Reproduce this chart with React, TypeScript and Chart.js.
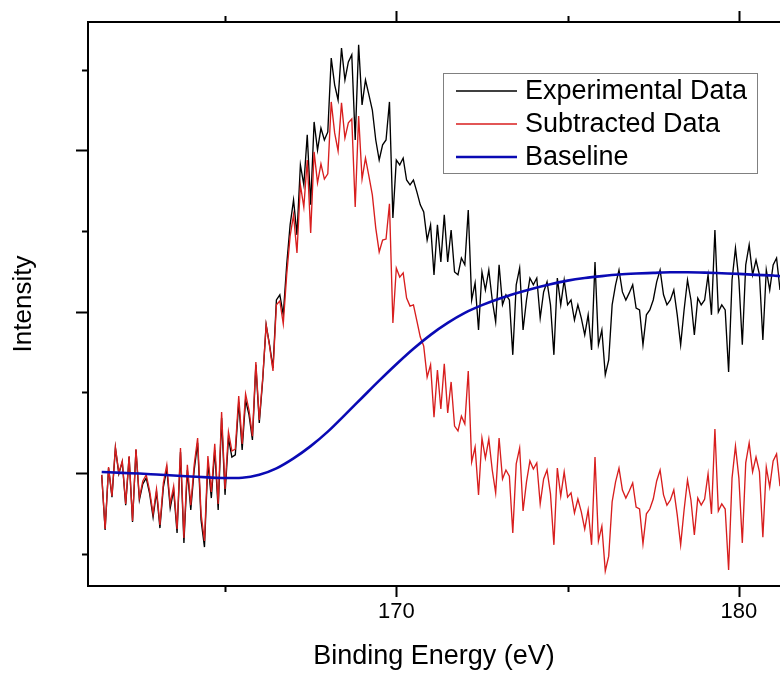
import React, { useEffect, useRef } from "react";
import { Chart, registerables } from "chart.js";

Chart.register(...registerables);

// Binding-energy grid of the spectrum (eV): start and instrument step
const energyStart = 161.4;
const energyStep = 0.1;

// Experimental Data (counts), one per energy step
const experimental = [
  994, 823, 1015, 925, 1077, 997, 1034, 900, 1049, 848,
  1071, 916, 966, 984, 935, 863, 941, 829, 956, 1012,
  891, 947, 814, 1065, 783, 1009, 885, 1009, 1093, 854,
  770, 1034, 922, 1071, 885, 1170, 932, 1108, 1049, 1056,
  1220, 1071, 1226, 1180, 1102, 1335, 1155, 1288, 1459, 1397,
  1325, 1536, 1552, 1490, 1645, 1769, 1846, 1738, 1955, 1893,
  2048, 1831, 2088, 2001, 2069, 2032, 2057, 2286, 2203, 2156,
  2317, 2218, 2274, 2296, 2032, 2327, 2141, 2218, 2172, 2125,
  2032, 1970, 2017, 2032, 2150, 1790, 1970, 1955, 1976, 1908,
  1893, 1908, 1871, 1831, 1809, 1722, 1769, 1614, 1769, 1654,
  1800, 1654, 1753, 1623, 1614, 1666, 1645, 1815, 1536, 1589,
  1443, 1623, 1567, 1629, 1536, 1468, 1645, 1521, 1552, 1536,
  1366, 1583, 1635, 1443, 1536, 1604, 1583, 1604, 1480, 1561,
  1592, 1521, 1366, 1604, 1521, 1598, 1521, 1536, 1474, 1521,
  1480, 1428, 1490, 1381, 1654, 1397, 1443, 1304, 1350, 1521,
  1583, 1629, 1561, 1536, 1558, 1583, 1511, 1505, 1397, 1490,
  1505, 1536, 1592, 1629, 1552, 1521, 1536, 1567, 1490, 1397,
  1505, 1598, 1536, 1428, 1542, 1521, 1536, 1614, 1490, 1753,
  1499, 1521, 1505, 1313, 1598, 1697, 1598, 1397, 1645, 1707,
  1614, 1660, 1614, 1412, 1629, 1567, 1645, 1666, 1567,
];

// Subtracted Data (counts), one per energy step
const subtracted = [
  994, 826, 1018, 928, 1080, 1000, 1037, 904, 1052, 851,
  1074, 922, 975, 994, 944, 873, 950, 839, 969, 1025,
  904, 959, 826, 1077, 798, 1025, 900, 1025, 1108, 873,
  789, 1052, 941, 1090, 904, 1189, 950, 1127, 1068, 1074,
  1238, 1090, 1245, 1195, 1114, 1344, 1164, 1294, 1459, 1393,
  1316, 1521, 1533, 1462, 1614, 1734, 1800, 1682, 1893, 1824,
  1970, 1744, 1995, 1899, 1958, 1911, 1927, 2150, 2054, 1998,
  2147, 2038, 2085, 2097, 1824, 2106, 1911, 1976, 1920, 1862,
  1759, 1685, 1722, 1725, 1834, 1465, 1635, 1607, 1620, 1542,
  1517, 1521, 1471, 1421, 1393, 1297, 1335, 1173, 1319, 1198,
  1338, 1186, 1282, 1145, 1130, 1176, 1152, 1316, 1034, 1080,
  932, 1108, 1046, 1105, 1009, 938, 1108, 981, 1009, 990,
  814, 1028, 1077, 882, 972, 1037, 1012, 1031, 904, 981,
  1009, 935, 777, 1015, 928, 1003, 925, 938, 876, 919,
  879, 826, 885, 777, 1049, 789, 835, 696, 742, 910,
  972, 1015, 947, 922, 944, 969, 894, 888, 780, 873,
  888, 919, 975, 1009, 932, 900, 916, 947, 870, 777,
  885, 978, 916, 808, 922, 900, 919, 997, 873, 1136,
  882, 904, 888, 699, 984, 1083, 984, 783, 1031, 1093,
  1003, 1049, 1003, 801, 1018, 956, 1037, 1059, 959,
];

// Baseline (smooth), sampled at these energies
const baselineEnergy = [
  161.4, 162.0, 162.5, 163.0, 163.5, 164.0, 164.5, 165.0, 165.5, 166.0,
  166.5, 167.0, 167.5, 168.0, 168.5, 169.0, 169.5, 170.0, 170.5, 171.0,
  171.5, 172.0, 172.5, 173.0, 173.5, 174.0, 174.5, 175.0, 175.5, 176.0,
  176.5, 177.0, 177.5, 178.0, 178.5, 179.0, 179.5, 180.0, 180.5, 181.0, 181.2,
];
const baselineCounts = [
  1003, 1000, 998, 995, 992, 989, 986, 984, 985, 994,
  1014, 1045, 1083, 1128, 1180, 1233, 1286, 1337, 1385, 1428,
  1465, 1496, 1520, 1540, 1557, 1572, 1585, 1596, 1604, 1610,
  1615, 1618, 1620, 1622, 1622, 1621, 1619, 1617, 1614, 1612, 1610,
];

const seriesLabels = ["Experimental Data", "Subtracted Data", "Baseline"];
const seriesColors = ["#000000", "#d81e1e", "#0a0ab4"];
const seriesWidths = [1.35, 1.35, 2.6];

// Axis ranges and tick marks
const xMin = 161;
const xMax = 181.2;
const yMin = 649.4;
const yMax = 2397.8;
const xMajorTicks = [170, 180];
const xMinorTicks = [165, 175];
const yMajorTicks = [1000, 1500, 2000];
const yMinorTicks = [750, 1250, 1750, 2250];

const FONT = '"Liberation Sans", Arial, Helvetica, sans-serif';

const framePlugin = {
  id: "frameTicks",
  afterDatasetsDraw(chart: any) {
    const { ctx, chartArea: a, scales } = chart;
    const x = scales.x;
    const y = scales.y;
    ctx.save();
    ctx.strokeStyle = "#000";
    ctx.lineWidth = 2;
    ctx.beginPath();
    ctx.moveTo(a.left - 1, a.top);
    ctx.lineTo(a.right + 2, a.top);
    ctx.moveTo(a.left, a.top);
    ctx.lineTo(a.left, a.bottom);
    ctx.moveTo(a.left - 1, a.bottom);
    ctx.lineTo(a.right + 2, a.bottom);
    const xt = (v: number, len: number) => {
      const px = Math.round(x.getPixelForValue(v)) + 0.5;
      ctx.moveTo(px, a.bottom);
      ctx.lineTo(px, a.bottom + len);
      ctx.moveTo(px, a.top);
      ctx.lineTo(px, a.top - len);
    };
    xMajorTicks.forEach((v) => xt(v, 11));
    xMinorTicks.forEach((v) => xt(v, 6));
    const yt = (v: number, len: number) => {
      const py = Math.round(y.getPixelForValue(v)) + 0.5;
      ctx.moveTo(a.left, py);
      ctx.lineTo(a.left - len, py);
    };
    yMajorTicks.forEach((v) => yt(v, 12));
    yMinorTicks.forEach((v) => yt(v, 6));
    ctx.stroke();
    ctx.restore();
  },
  afterDraw(chart: any) {
    const { ctx } = chart;
    const box = { left: 443, top: 73, width: 314, height: 100 };
    ctx.save();
    ctx.fillStyle = "#ffffff";
    ctx.fillRect(box.left, box.top, box.width, box.height);
    ctx.strokeStyle = "#808080";
    ctx.lineWidth = 1;
    ctx.strokeRect(box.left + 0.5, box.top + 0.5, box.width, box.height);
    chart.data.datasets.forEach((ds: any, i: number) => {
      const rowY = box.top + 18 + i * 33;
      ctx.strokeStyle = ds.borderColor;
      ctx.lineWidth = i === 2 ? 2.6 : 1.6;
      ctx.beginPath();
      ctx.moveTo(456, rowY);
      ctx.lineTo(517, rowY);
      ctx.stroke();
      ctx.fillStyle = "#000";
      ctx.font = `27px ${FONT}`;
      ctx.textBaseline = "middle";
      ctx.textAlign = "left";
      ctx.fillText(ds.label, 525, rowY + 1);
    });
    ctx.restore();
  },
};

export default function App() {
  const canvasRef = useRef<HTMLCanvasElement | null>(null);

  useEffect(() => {
    const canvas = canvasRef.current;
    if (!canvas) return;
    const expPoints = experimental.map((v, i) => ({
      x: +(energyStart + i * energyStep).toFixed(2),
      y: v,
    }));
    const subPoints = subtracted.map((v, i) => ({
      x: +(energyStart + i * energyStep).toFixed(2),
      y: v,
    }));
    const basePoints = baselineEnergy.map((e, i) => ({ x: e, y: baselineCounts[i] }));

    const chart = new Chart(canvas, {
      type: "line",
      data: {
        datasets: [
          {
            label: seriesLabels[0],
            data: expPoints,
            borderColor: seriesColors[0],
            borderWidth: seriesWidths[0],
            pointRadius: 0,
            tension: 0,
            order: 3,
          },
          {
            label: seriesLabels[1],
            data: subPoints,
            borderColor: seriesColors[1],
            borderWidth: seriesWidths[1],
            pointRadius: 0,
            tension: 0,
            order: 2,
          },
          {
            label: seriesLabels[2],
            data: basePoints,
            borderColor: seriesColors[2],
            borderWidth: seriesWidths[2],
            pointRadius: 0,
            cubicInterpolationMode: "monotone",
            order: 1,
          },
        ],
      },
      options: {
        responsive: false,
        devicePixelRatio: 1,
        animation: false,
        events: [],
        layout: { padding: { top: 22, right: 0, bottom: 0, left: 0 } },
        plugins: {
          legend: { display: false },
          tooltip: { enabled: false },
          title: { display: false },
        },
        scales: {
          x: {
            type: "linear",
            position: "bottom",
            min: xMin,
            max: xMax,
            grid: { display: false, drawTicks: false },
            border: { display: false },
            afterBuildTicks: (scale: any) => {
              scale.ticks = xMajorTicks.map((v) => ({ value: v }));
            },
            afterFit: (scale: any) => {
              scale.height = 87;
            },
            ticks: {
              padding: 13,
              color: "#000",
              font: { family: FONT, size: 22 },
              maxRotation: 0,
            },
            title: {
              display: true,
              text: "Binding Energy (eV)",
              color: "#000",
              font: { family: FONT, size: 27 },
              padding: { top: 0, bottom: 0 },
            },
          },
          y: {
            type: "linear",
            position: "left",
            min: yMin,
            max: yMax,
            grid: { display: false, drawTicks: false },
            border: { display: false },
            ticks: { display: false },
            afterFit: (scale: any) => {
              scale.width = 88;
            },
            title: {
              display: true,
              text: "Intensity",
              color: "#000",
              font: { family: FONT, size: 26 },
              padding: { top: 8, bottom: 0 },
            },
          },
        },
      },
      plugins: [framePlugin],
    } as any);

    return () => {
      chart.destroy();
    };
  }, []);

  return (
    <div style={{ position: "fixed", left: 0, top: 0, width: 780, height: 673, background: "#fff" }}>
      <canvas ref={canvasRef} width={780} height={673} style={{ display: "block" }} />
    </div>
  );
}
